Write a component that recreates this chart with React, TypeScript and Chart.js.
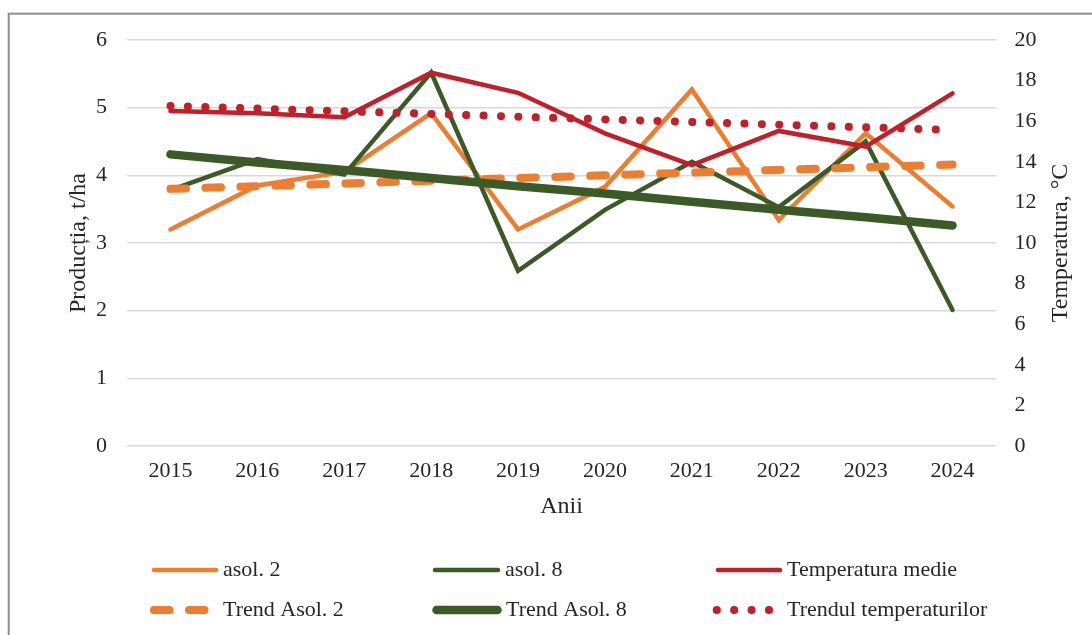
import React, { useEffect, useRef } from "react";
import { Chart, registerables } from "chart.js";

Chart.register(...registerables);

const years = ["2015", "2016", "2017", "2018", "2019", "2020", "2021", "2022", "2023", "2024"];
const asol2 = [3.2, 3.85, 4.05, 4.92, 3.2, 3.83, 5.27, 3.34, 4.62, 3.54];
const asol8 = [3.78, 4.24, 4.01, 5.52, 2.59, 3.49, 4.2, 3.53, 4.5, 2.01];
const tempMedie = [16.5, 16.39, 16.19, 18.39, 17.4, 15.4, 13.84, 15.52, 14.75, 17.37];
const trendAsol2 = [3.8, 3.84, 3.88, 3.92, 3.96, 4.0, 4.04, 4.08, 4.12, 4.16];
const trendAsol8 = [4.31, 4.19, 4.08, 3.96, 3.84, 3.73, 3.61, 3.49, 3.38, 3.26];
const trendTemp = [16.75, 16.62, 16.49, 16.36, 16.22, 16.09, 15.96, 15.83, 15.7, 15.57];

const leftTicks = { min: 0, max: 6, step: 1 };
const rightTicks = { min: 0, max: 20, step: 2 };

const ORANGE = "#ED7D31";
const GREEN = "#3B5A27";
const RED = "#C21F2B";
const TEXT = "#262626";
const FONT = "Liberation Serif, 'Times New Roman', serif";

// legend layout: [dataset index, line x1, line x2, text x, row y]
const legendLayout: [number, number, number, number, number][] = [
  [0, 154, 216, 223, 570],
  [1, 435, 498, 505, 570],
  [2, 718, 780, 787, 570],
  [3, 154, 206, 223, 610],
  [4, 436.5, 497.5, 506, 610],
  [5, 716.7, 770, 787, 610],
];

const framePlugin = {
  id: "frameAndLegend",
  beforeDraw(chart: any) {
    const ctx = chart.ctx;
    ctx.save();
    ctx.strokeStyle = "#8f8f8f";
    ctx.lineWidth = 2;
    ctx.strokeRect(8.7, 13.7, 3000, 3000);
    ctx.restore();
  },
  afterDraw(chart: any) {
    const ctx = chart.ctx;
    const ds = chart.data.datasets;
    ctx.save();
    // right axis title
    ctx.font = `24px ${FONT}`;
    ctx.fillStyle = TEXT;
    ctx.textAlign = "center";
    ctx.textBaseline = "middle";
    ctx.translate(1061, (chart.chartArea.top + chart.chartArea.bottom) / 2);
    ctx.rotate(-Math.PI / 2);
    ctx.fillText("Temperatura, °C", 0, 0);
    ctx.restore();

    ctx.save();
    ctx.font = `22px ${FONT}`;
    for (const [i, x1, x2, tx, y] of legendLayout) {
      const d = ds[i];
      ctx.beginPath();
      ctx.strokeStyle = d.borderColor;
      ctx.lineWidth = d.borderWidth;
      ctx.lineCap = d.borderCapStyle || "round";
      ctx.setLineDash(d.borderDash || []);
      ctx.moveTo(x1, y);
      ctx.lineTo(x2, y);
      ctx.stroke();
      ctx.setLineDash([]);
      ctx.fillStyle = TEXT;
      ctx.textAlign = "left";
      ctx.textBaseline = "middle";
      ctx.fillText(d.label, tx, y);
    }
    ctx.restore();
  },
};

export default function App() {
  const ref = useRef<HTMLCanvasElement>(null);

  useEffect(() => {
    if (!ref.current) return;
    const chart = new Chart(ref.current, {
      type: "line",
      data: {
        labels: years,
        datasets: [
          { label: "asol. 2", data: asol2, yAxisID: "y", borderColor: ORANGE, borderWidth: 4.5, borderCapStyle: "round", order: 6 },
          { label: "asol. 8", data: asol8, yAxisID: "y", borderColor: GREEN, borderWidth: 4.5, borderCapStyle: "round", order: 5 },
          { label: "Temperatura medie", data: tempMedie, yAxisID: "y1", borderColor: RED, borderWidth: 4.5, borderCapStyle: "round", order: 2 },
          { label: "Trend Asol. 2", data: trendAsol2, yAxisID: "y", borderColor: ORANGE, borderWidth: 8, borderCapStyle: "round", borderDash: [15.5, 19.5], order: 4 },
          { label: "Trend Asol. 8", data: trendAsol8, yAxisID: "y", borderColor: GREEN, borderWidth: 8.5, borderCapStyle: "round", order: 3 },
          { label: "Trendul temperaturilor", data: trendTemp, yAxisID: "y1", borderColor: RED, borderWidth: 8, borderCapStyle: "round", borderDash: [0.1, 17.3], order: 1 },
        ] as any,
      },
      options: {
        animation: false,
        responsive: false,
        layout: { padding: { left: 0, right: 0, top: 40, bottom: 0 } },
        elements: { point: { radius: 0, hoverRadius: 0 }, line: { tension: 0, fill: false } },
        plugins: { legend: { display: false }, tooltip: { enabled: false } },
        scales: {
          x: {
            offset: true,
            grid: { display: false, drawTicks: false },
            border: { display: false },
            ticks: { padding: 12.5, color: TEXT, font: { family: FONT, size: 22 }, maxRotation: 0, autoSkip: false },
            title: { display: true, text: "Anii", color: TEXT, font: { family: FONT, size: 24 }, padding: { top: 0, bottom: 113.6 } },
            afterFit: (s: any) => { s.height = 189; },
          },
          y: {
            position: "left",
            min: leftTicks.min,
            max: leftTicks.max,
            grid: { color: "#d9d9d9", lineWidth: 1.5, drawTicks: false },
            border: { display: false },
            ticks: { stepSize: leftTicks.step, padding: 20, color: TEXT, font: { family: FONT, size: 22 } },
            title: { display: true, text: "Producția, t/ha", color: TEXT, font: { family: FONT, size: 24 }, padding: { top: 64, bottom: 0 } },
            afterFit: (s: any) => { s.width = 127; },
          },
          y1: {
            position: "right",
            min: rightTicks.min,
            max: rightTicks.max,
            grid: { display: false, drawTicks: false },
            border: { display: false },
            ticks: { stepSize: rightTicks.step, padding: 18.5, color: TEXT, font: { family: FONT, size: 22 } },
            afterFit: (s: any) => { s.width = 96; },
          },
        },
      } as any,
      plugins: [framePlugin],
    });
    return () => chart.destroy();
  }, []);

  return (
    <div style={{ position: "fixed", left: 0, top: 0, width: 1092, height: 635, background: "#fff" }}>
      <canvas ref={ref} width={1092} height={635} style={{ display: "block" }} />
    </div>
  );
}
